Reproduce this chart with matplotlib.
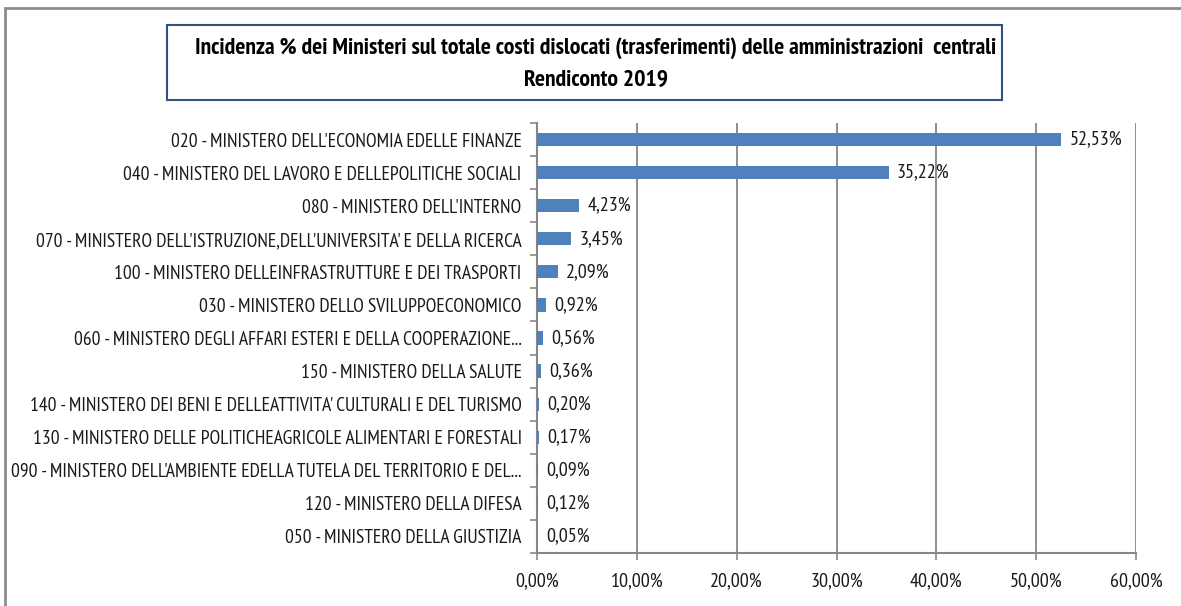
import matplotlib.pyplot as plt
from matplotlib.patches import Rectangle
from matplotlib.ticker import FuncFormatter, FixedLocator

# categorie e valori (% sul totale costi dislocati)
ministeri = [
    "020 - MINISTERO DELL'ECONOMIA EDELLE FINANZE",
    "040 - MINISTERO DEL LAVORO E DELLEPOLITICHE SOCIALI",
    "080 - MINISTERO DELL'INTERNO",
    "070 - MINISTERO DELL'ISTRUZIONE,DELL'UNIVERSITA' E DELLA RICERCA",
    "100 - MINISTERO DELLEINFRASTRUTTURE E DEI TRASPORTI",
    "030 - MINISTERO DELLO SVILUPPOECONOMICO",
    "060 - MINISTERO DEGLI AFFARI ESTERI E DELLA COOPERAZIONE...",
    "150 - MINISTERO DELLA SALUTE",
    "140 - MINISTERO DEI BENI E DELLEATTIVITA' CULTURALI E DEL TURISMO",
    "130 - MINISTERO DELLE POLITICHEAGRICOLE ALIMENTARI E FORESTALI",
    "090 - MINISTERO DELL'AMBIENTE EDELLA TUTELA DEL TERRITORIO E DEL...",
    "120 - MINISTERO DELLA DIFESA",
    "050 - MINISTERO DELLA GIUSTIZIA",
]
incidenza = [52.53, 35.22, 4.23, 3.45, 2.09, 0.92, 0.56, 0.36, 0.20, 0.17, 0.09, 0.12, 0.05]
x_ticks = [0, 10, 20, 30, 40, 50, 60]

titolo = ("Incidenza % dei Ministeri sul totale costi dislocati (trasferimenti) delle amministrazioni  centrali\n"
          "Rendiconto 2019")

# font stretto, simile al Calibri compresso dell'originale
plt.rcParams['font.family'] = ['PT Sans Narrow', 'DejaVu Sans']

fig = plt.figure(figsize=(11.81, 6.06), dpi=100)
ax = fig.add_axes([537 / 1181, 1 - 553 / 606, (1136 - 537) / 1181, (553 - 123) / 606])

grey = '#878787'
bar_col = '#4F81BD'
txt_col = '#1a1a1a'
fs = 14
n = len(ministeri)
ypos = list(range(n))

ax.barh(ypos, incidenza, height=0.4, color=bar_col, zorder=3)
for y, v in zip(ypos, incidenza):
    ax.annotate(f"{v:.2f}%".replace('.', ','), (v, y), xytext=(6, 0), textcoords='offset points',
                va='center', ha='left', fontsize=14.5, color=txt_col, zorder=4)

ax.set_ylim(n - 0.5, -0.5)
ax.set_xlim(0, 60)
ax.set_yticks(ypos)
ax.set_yticklabels(ministeri, fontsize=fs, color=txt_col)
ax.yaxis.set_minor_locator(FixedLocator([i - 0.5 for i in range(n + 1)]))
ax.tick_params(axis='y', which='major', length=0, pad=11)
ax.tick_params(axis='y', which='minor', length=5, color=grey, width=1.2)

ax.set_xticks(x_ticks)
ax.xaxis.set_major_formatter(FuncFormatter(lambda v, p: f"{v:.2f}%".replace('.', ',')))
ax.tick_params(axis='x', length=5, color=grey, width=1.2, labelsize=14.5, labelcolor=txt_col, pad=9)

ax.grid(axis='x', color=grey, linewidth=1.3, zorder=0)
for s in ['top', 'right']:
    ax.spines[s].set_visible(False)
for s in ['left', 'bottom']:
    ax.spines[s].set_color(grey)
    ax.spines[s].set_linewidth(1.5)

# cornice esterna del grafico
fig.patches.append(Rectangle((5 / 1181, -0.2), 1.2, 1.2 - 8 / 606, transform=fig.transFigure,
                             fill=False, edgecolor='#8c8c8c', linewidth=2))

# riquadro del titolo
fig.patches.append(Rectangle((167 / 1181, 1 - 100 / 606), (1002 - 167) / 1181, 75 / 606,
                             transform=fig.transFigure, fill=False, edgecolor='#2F5480', linewidth=1.5))
fig.text(596 / 1181, 1 - 64 / 606, titolo, ha='center', va='center', fontsize=17,
         fontweight='bold', color='black', linespacing=1.65)

fig.savefig('out.png', dpi=100)
